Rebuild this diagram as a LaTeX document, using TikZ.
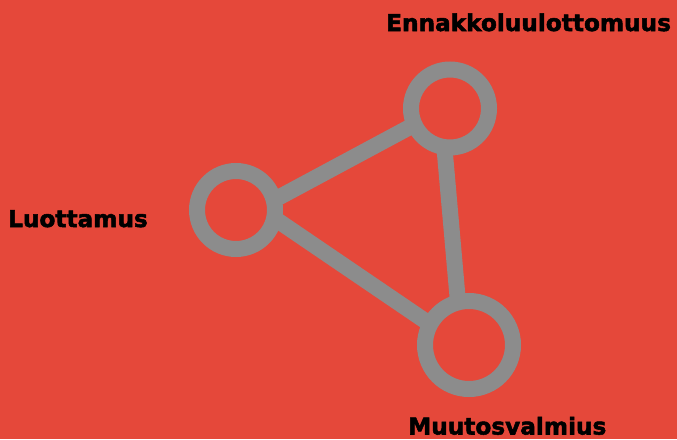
\documentclass[tikz,border=0pt]{standalone}
\usepackage{fontspec}
\setmainfont[BoldFeatures={FakeBold=2.2}]{DejaVu Sans}
\usetikzlibrary{positioning, backgrounds}
\definecolor{bgRed}{HTML}{E5483A}
\definecolor{ringGray}{HTML}{8C8C8C}

\begin{document}
\begin{tikzpicture}[x=1pt, y=-1pt,
    ring/.style={circle, draw=ringGray, line width=16pt, inner sep=0pt},
    link/.style={ringGray, line width=16pt, shorten <=-6pt, shorten >=-6pt},
    lbl/.style={anchor=base west, inner sep=0pt, text=black, text depth=0pt,
      font=\bfseries\fontsize{23.2}{26}\selectfont}]
  \useasboundingbox (0,0) rectangle (677,439);
  % rings
  \node[ring, minimum size=78pt] (luot) at (236,210) {};
  \node[ring, minimum size=78pt] (ennak) at (450,108.5) {};
  \node[ring, minimum size=88pt] (muut) at (469,345) {};
  % labels
  \node[lbl] (luot-t) at (8,227) {Luottamus};
  \node[lbl] (ennak-t) at (386,31) {Ennakkoluulottomuus};
  \node[lbl] (muut-t) at (408,434.5) {Muutosvalmius};
  % links behind the rings
  \begin{scope}[on background layer]
    \fill[bgRed] (0,0) rectangle (677,439);
    \draw[link] (luot.17) -- (ennak.205);
    \draw[link] (luot.-16) -- (muut.151);
    \draw[link] (ennak.264) -- (muut.103);
  \end{scope}
\end{tikzpicture}
\end{document}
